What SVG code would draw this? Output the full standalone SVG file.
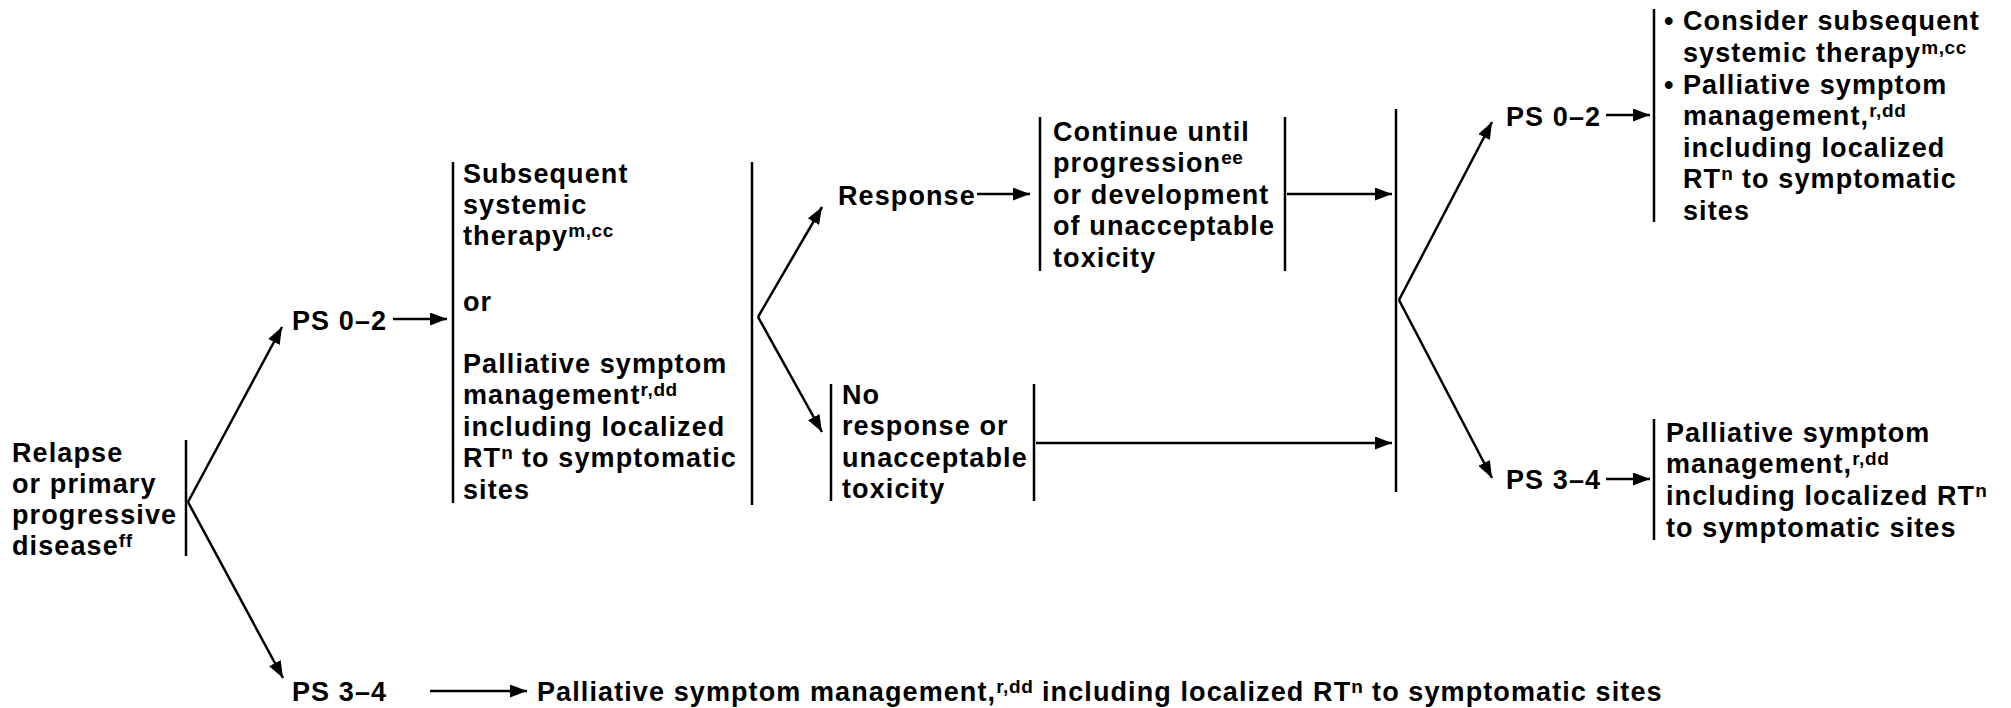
<svg xmlns="http://www.w3.org/2000/svg" width="2011" height="708" viewBox="0 0 2011 708">
<defs>
<style>
text{font-family:"Liberation Sans",Arial,Helvetica,sans-serif;font-weight:bold;font-size:27px;letter-spacing:1.1px;fill:#000}
.sup{font-size:19px;letter-spacing:0.6px}
.bar{stroke:#000;stroke-width:2.5;fill:none}
.conn{stroke:#000;stroke-width:2.5;fill:none}
</style>
<marker id="ah" markerWidth="17" markerHeight="13" refX="17" refY="6.5" orient="auto" markerUnits="userSpaceOnUse"><path d="M0,0 L17,6.5 L0,13 z" fill="#000"/></marker>
</defs>
<rect width="2011" height="708" fill="#fff"/>

<g id="relapse">
<text><tspan x="12" y="462">Relapse</tspan><tspan x="12" y="493">or primary</tspan><tspan x="12" y="524">progressive</tspan><tspan x="12" y="555">disease</tspan><tspan class="sup" dy="-8">ff</tspan></text>
<line class="bar" x1="186" y1="440" x2="186" y2="556"/>
</g>

<g id="ps02-left"><text x="292" y="330">PS 0–2</text></g>
<g id="ps34-left"><text x="292" y="701">PS 3–4</text></g>

<g id="subsequent">
<line class="bar" x1="453" y1="162" x2="453" y2="503"/>
<text><tspan x="463" y="183">Subsequent</tspan><tspan x="463" y="214">systemic</tspan><tspan x="463" y="245">therapy</tspan><tspan class="sup" dy="-8">m,cc</tspan><tspan x="463" y="311">or</tspan><tspan x="463" y="373">Palliative symptom</tspan><tspan x="463" y="404">management</tspan><tspan class="sup" dy="-8">r,dd</tspan><tspan x="463" y="436">including localized</tspan><tspan x="463" y="467">RT</tspan><tspan class="sup" dy="-8">n</tspan><tspan y="467"> to symptomatic</tspan><tspan x="463" y="499">sites</tspan></text>
<line class="bar" x1="752" y1="162" x2="752" y2="505"/>
</g>

<g id="response"><text x="838" y="205">Response</text></g>

<g id="continue">
<line class="bar" x1="1040" y1="117" x2="1040" y2="271"/>
<text><tspan x="1053" y="141">Continue until</tspan><tspan x="1053" y="172">progression</tspan><tspan class="sup" dy="-8">ee</tspan><tspan x="1053" y="204">or development</tspan><tspan x="1053" y="235">of unacceptable</tspan><tspan x="1053" y="267">toxicity</tspan></text>
<line class="bar" x1="1285" y1="117" x2="1285" y2="271"/>
</g>

<g id="noresponse">
<line class="bar" x1="831" y1="384" x2="831" y2="501"/>
<text><tspan x="842" y="404">No</tspan><tspan x="842" y="435">response or</tspan><tspan x="842" y="467">unacceptable</tspan><tspan x="842" y="498">toxicity</tspan></text>
<line class="bar" x1="1034" y1="384" x2="1034" y2="501"/>
</g>

<g id="merge"><line class="bar" x1="1396" y1="109" x2="1396" y2="492"/></g>

<g id="ps02-right"><text x="1506" y="126">PS 0–2</text></g>
<g id="ps34-right"><text x="1506" y="489">PS 3–4</text></g>

<g id="options-good">
<line class="bar" x1="1654" y1="9" x2="1654" y2="222"/>
<text><tspan x="1664" y="30">•</tspan><tspan x="1683" y="30">Consider subsequent</tspan><tspan x="1683" y="62">systemic therapy</tspan><tspan class="sup" dy="-8">m,cc</tspan><tspan x="1664" y="94">•</tspan><tspan x="1683" y="94">Palliative symptom</tspan><tspan x="1683" y="125">management,</tspan><tspan class="sup" dy="-8">r,dd</tspan><tspan x="1683" y="157">including localized</tspan><tspan x="1683" y="188">RT</tspan><tspan class="sup" dy="-8">n</tspan><tspan y="188"> to symptomatic</tspan><tspan x="1683" y="220">sites</tspan></text>
</g>

<g id="options-poor">
<line class="bar" x1="1654" y1="419" x2="1654" y2="540"/>
<text><tspan x="1666" y="442">Palliative symptom</tspan><tspan x="1666" y="473">management,</tspan><tspan class="sup" dy="-8">r,dd</tspan><tspan x="1666" y="505">including localized RT</tspan><tspan class="sup" dy="-8">n</tspan><tspan x="1666" y="537">to symptomatic sites</tspan></text>
</g>

<g id="bottom-palliative">
<text x="537" y="701">Palliative symptom management,<tspan class="sup" dy="-8">r,dd</tspan><tspan dy="8"> including localized RT</tspan><tspan class="sup" dy="-8">n</tspan><tspan dy="8"> to symptomatic sites</tspan></text>
</g>

<g id="connectors">
<path class="conn" d="M188,502 L282,327" marker-end="url(#ah)"/>
<path class="conn" d="M188,502 L283,678" marker-end="url(#ah)"/>
<path class="conn" d="M393,319 L447,319" marker-end="url(#ah)"/>
<path class="conn" d="M430,691 L527,691" marker-end="url(#ah)"/>
<path class="conn" d="M758,317 L822,207" marker-end="url(#ah)"/>
<path class="conn" d="M758,317 L822,432" marker-end="url(#ah)"/>
<path class="conn" d="M977,194 L1030,194" marker-end="url(#ah)"/>
<path class="conn" d="M1287,194 L1392,194" marker-end="url(#ah)"/>
<path class="conn" d="M1036,443 L1392,443" marker-end="url(#ah)"/>
<path class="conn" d="M1399,300 L1492,122" marker-end="url(#ah)"/>
<path class="conn" d="M1399,300 L1492,478" marker-end="url(#ah)"/>
<path class="conn" d="M1606,115 L1650,115" marker-end="url(#ah)"/>
<path class="conn" d="M1606,479 L1650,479" marker-end="url(#ah)"/>
</g>
</svg>
